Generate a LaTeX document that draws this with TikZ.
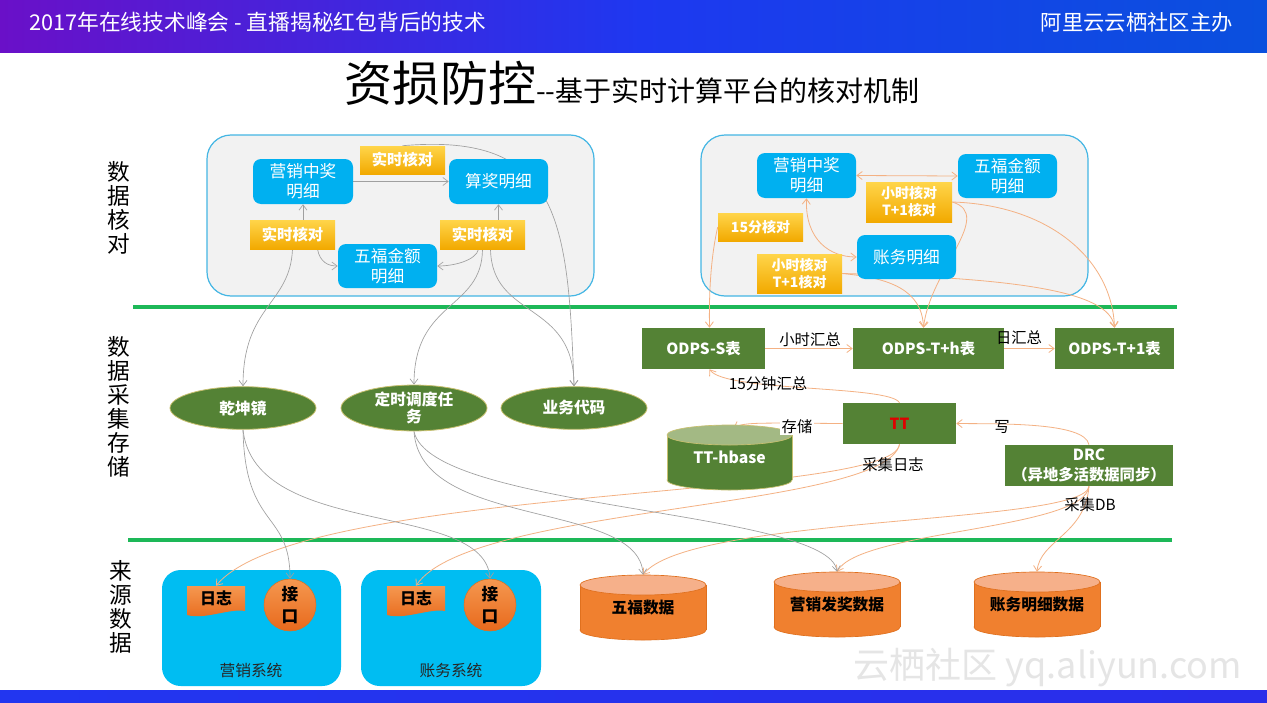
\documentclass[tikz,border=0pt]{standalone}
\usepackage{fontspec}
\setmainfont{Noto Sans CJK SC}
\usetikzlibrary{arrows.meta,shapes.geometric,calc}
\definecolor{cblue}{HTML}{00B0F0}
\definecolor{csys}{HTML}{00BDF2}
\definecolor{cyt}{HTML}{FFD54A}
\definecolor{cyb}{HTML}{F2A900}
\definecolor{cgreen}{HTML}{548235}
\definecolor{cgtop}{HTML}{A3B984}
\definecolor{cgbd}{HTML}{C8C070}
\definecolor{cgray}{HTML}{A0A0A0}
\definecolor{cpeach}{HTML}{F4B183}
\definecolor{cdiv}{HTML}{1DB858}
\definecolor{cbord}{HTML}{44B6E4}
\definecolor{cpanel}{HTML}{F2F2F2}
\definecolor{cor}{HTML}{F0802F}
\definecolor{cortop}{HTML}{F6B08A}
\definecolor{corbd}{HTML}{E0701E}
\definecolor{cot}{HTML}{F59850}
\definecolor{cob}{HTML}{E8691C}
\definecolor{hdl}{HTML}{6A10C8}
\definecolor{hdm}{HTML}{1E38F0}
\definecolor{hdr}{HTML}{0A50DE}
\definecolor{btl}{HTML}{2236F0}
\definecolor{btm}{HTML}{4414DC}
\definecolor{btr}{HTML}{2A2EEA}
\definecolor{ctt}{HTML}{E00000}
\pgfdeclarelayer{back}
\pgfdeclarelayer{mid}
\pgfsetlayers{back,mid,main}
\newcommand{\mycyl}[7]{%
 \pgfmathsetmacro{\cylcx}{(#1+#3)/2}%
 \pgfmathsetmacro{\cylrx}{(#3-#1)*0.375}%
 \pgfmathsetmacro{\cylty}{#2+10}%
 \pgfmathsetmacro{\cylby}{#4-10}%
 \filldraw[fill=#5, draw=#7, line width=0.5pt] (\cylcx,\cylby) ellipse [x radius=\cylrx pt, y radius=7.5pt];
 \fill[#5] (#1,\cylty) rectangle (#3,\cylby);
 \draw[#7, line width=0.5pt] (#1,\cylty) -- (#1,\cylby) (#3,\cylty) -- (#3,\cylby);
 \filldraw[fill=#6, draw=#7, line width=0.5pt] (\cylcx,\cylty) ellipse [x radius=\cylrx pt, y radius=7.5pt];
}
\tikzset{
 bx/.style n args={4}{at={({(#1+#3)/2},{(#2+#4)/2})}, minimum width={(#3-#1)*0.75pt}, minimum height={(#4-#2)*0.75pt}},
 container/.style={rectangle, rounded corners=18pt, fill=cpanel, draw=cbord, line width=0.9pt, inner sep=0},
 bluebox/.style={rectangle, rounded corners=6pt, fill=cblue, text=white, align=center, inner sep=0, font=\fontsize{12.5}{15}\selectfont},
 ybox/.style={rectangle, top color=cyt, bottom color=cyb, text=white, align=center, inner sep=0, font=\bfseries\fontsize{11.5}{14}\selectfont},
 ysmall/.style={ybox, font=\bfseries\fontsize{10.5}{12.8}\selectfont},
 gbox/.style={rectangle, fill=cgreen, text=white, align=center, inner sep=0, font=\bfseries\fontsize{11.5}{15.5}\selectfont},
 gell/.style={ellipse, fill=cgreen, draw=cgbd, line width=0.6pt, text=white, align=center, inner sep=0, minimum width=109.5pt, minimum height=32pt, font=\bfseries\fontsize{11.8}{13}\selectfont},
 cyltext/.style={rectangle, inner sep=0, align=center, font=\bfseries\fontsize{11.8}{14}\selectfont},
 sysbox/.style={rectangle, rounded corners=14pt, fill=csys, inner sep=0},
 systxt/.style={font=\fontsize{11.8}{14}\selectfont, text=black!85},
 lognode/.style={rectangle, inner sep=0, font=\bfseries\fontsize{12}{14}\selectfont},
 jknode/.style={circle, top color=cot, bottom color=cob, draw=corbd, line width=0.4pt, inner sep=0, minimum size=39pt, align=center, font=\bfseries\fontsize{12.5}{16.5}\selectfont},
 lbl/.style={font=\fontsize{11.5}{14}\selectfont, text=black, inner sep=1pt},
 side/.style={font=\fontsize{17}{18}\selectfont, align=center, text=black, inner sep=0},
 garrow/.style={draw=cgray, line width=0.5pt, ->},
 parrow/.style={draw=cpeach, line width=0.6pt},
 divider/.style={draw=cdiv, line width=2.6pt}
}
\begin{document}
\begin{tikzpicture}[x=0.75pt,y=-0.75pt, >={Straight Barb[length=4pt,width=6pt]}]
\useasboundingbox (0,0) rectangle (1267,703);
\begin{pgfonlayer}{back}
\fill[white] (0,0) rectangle (1267,703);
\draw[divider] (133,307) -- (1177,307);
\draw[divider] (128,540) -- (1172,540);
\node[container, bx={207}{135}{594}{296}] (c1) {};
\node[container, bx={701}{135}{1088}{296}] (c2) {};
\node[sysbox, bx={162}{570}{341}{686}] (sys1) {};
\node[sysbox, bx={361}{570}{541}{686}] (sys2) {};
\end{pgfonlayer}
% header and footer
\shade[left color=hdl, right color=hdm] (0,0) rectangle (641,52);
\shade[left color=hdm, right color=hdr] (640,0) rectangle (1267,52);
\shade[left color=btl, middle color=btm, right color=btr] (0,690) rectangle (1267,703);
\node[anchor=west, text=white, font=\fontsize{16.3}{18}\selectfont, inner sep=0] (head) at (29,22) {2017年在线技术峰会 - 直播揭秘红包背后的技术};
\node[anchor=east, text=white, font=\fontsize{16}{18}\selectfont, inner sep=0] (host) at (1233,22) {阿里云云栖社区主办};
% title
\node[anchor=base west, inner sep=0] (title) at (344,101) {{\fontsize{36}{36}\selectfont 资损防控}{\fontsize{21}{22}\selectfont {-}{-}基于实时计算平台的核对机制}};
% side labels
\node[side] (s1lab) at (119,208) {数\\据\\核\\对};
\node[side] (s2lab) at (119,407) {数\\据\\采\\集\\存\\储};
\node[side] (s3lab) at (121,607) {来\\源\\数\\据};
% watermark
\node[text=black!10, font=\fontsize{27}{30}\selectfont, inner sep=0] (wm) at (1048,668) {云栖社区 yq.aliyun.com};
% top-left panel
\node[bluebox, bx={253}{159}{353}{204}] (yx1) {营销中奖\\明细};
\node[bluebox, bx={449}{159}{548}{204}] (sj) {算奖明细};
\node[bluebox, bx={338}{244}{437}{288}] (wf1) {五福金额\\明细};
\node[ybox, bx={360}{146}{445}{174}] (hd1) {实时核对};
\node[ybox, bx={250}{220}{335}{249}] (hd2) {实时核对};
\node[ybox, bx={440}{220}{525}{249}] (hd3) {实时核对};
% top-right panel
\node[bluebox, bx={757}{153}{856}{198}] (yx2) {营销中奖\\明细};
\node[bluebox, bx={958}{154}{1057}{198}] (wf2) {五福金额\\明细};
\node[bluebox, bx={857}{235}{956}{279}] (zw) {账务明细};
\node[ysmall, bx={866}{182}{952}{222}] (hr1) {小时核对\\T+1核对};
\node[ysmall, bx={718}{213}{803}{241}] (f15) {15分核对};
\node[ysmall, bx={757}{254}{842}{293}] (hr2) {小时核对\\T+1核对};
% middle section
\node[gbox, bx={642}{328}{765}{369}] (os) {ODPS-S表};
\node[gbox, bx={853}{328}{1004}{369}] (oth) {ODPS-T+h表};
\node[gbox, bx={1055}{328}{1174}{369}] (ot1) {ODPS-T+1表};
\node[gbox, bx={843}{403}{956}{444}, text=ctt] (tt) {TT};
\node[gbox, bx={1005}{445}{1173}{486}] (drc) {DRC\\（异地多活数据同步）};
\mycyl{667}{425}{792}{490}{cgreen}{cgtop}{cgbd}
\node[cyltext, text=white, bx={667}{425}{792}{490}] (hb) {\raisebox{-4pt}{TT-hbase}};
\node[gell] (qkj) at (243,408) {乾坤镜};
\node[gell] (dsd) at (414,408) {定时调度任\\务};
\node[gell] (ywdm) at (574,408) {业务代码};
\node[lbl] (l1) at (810,340) {小时汇总};
\node[lbl] (l2) at (1019,338) {日汇总};
\node[lbl] (l3) at (768,384) {15分钟汇总};
\node[lbl, fill=white] (l4) at (797,427) {存储};
\node[lbl] (l5) at (1002,427) {写};
\node[lbl] (l6) at (893,465) {采集日志};
\node[lbl] (l7) at (1090,505) {采集DB};
% bottom section
\shade[top color=cot, bottom color=cob] (187,586) -- (245,586) -- (245,611) .. controls (230,608) and (205,620) .. (187,615) -- cycle;
\shade[top color=cot, bottom color=cob] (387,586) -- (445,586) -- (445,611) .. controls (430,608) and (405,620) .. (387,615) -- cycle;
\node[lognode, bx={187}{586}{245}{610}] (log1) {日志};
\node[lognode, bx={387}{586}{445}{610}] (log2) {日志};
\node[jknode] (jk1) at (290,605) {接\\口};
\node[jknode] (jk2) at (490,605) {接\\口};
\node[systxt] (sys1l) at (251,671) {营销系统};
\node[systxt] (sys2l) at (451,671) {账务系统};
\mycyl{580}{575}{706}{640}{cor}{cortop}{corbd}
\mycyl{774}{572}{900}{637}{cor}{cortop}{corbd}
\mycyl{974}{572}{1100}{637}{cor}{cortop}{corbd}
\node[cyltext, bx={580}{575}{706}{640}] (wf3) {\raisebox{-4pt}{五福数据}};
\node[cyltext, bx={774}{572}{900}{637}] (yf) {\raisebox{-4pt}{营销发奖数据}};
\node[cyltext, bx={974}{572}{1100}{637}] (zm) {\raisebox{-4pt}{账务明细数据}};
% connectors
\begin{pgfonlayer}{mid}
\draw[garrow] (yx1.east) -- (sj.west);
\draw[garrow] (hd2.north -| yx1.south) -- (yx1.south);
\draw[garrow] ($(hd2.south)+(25,0)$) .. controls (320,262) and (328,266) .. (wf1.west);
\draw[garrow] (hd3.north -| sj.south) -- (sj.south);
\draw[garrow] ($(hd3.south)+(-4,0)$) .. controls (476,260) and (455,266) .. (wf1.east);
\draw[garrow] (hd2.south) .. controls (290,305) and (243,305) .. (qkj.north);
\draw[garrow] (hd3.south) .. controls (482,310) and (414,300) .. (dsd.north);
\draw[garrow] ($(hd3.south)+(8,0)$) .. controls (492,320) and (574,300) .. (ywdm.north);
\draw[garrow] (hd1.north) .. controls (560,132) and (568,220) .. (ywdm.north);
\draw[parrow, <->] (yx2.east) -- (wf2.west);
\draw[parrow, <->] (yx2.south) .. controls (805,240) and (830,257) .. (zw.west);
\draw[parrow, ->] (f15.west) .. controls (710,260) and (709,300) .. ($(os.north)+(6,0)$);
\draw[parrow, ->] (hr1.east) .. controls (995,215) and (930,270) .. ($(oth.north)+(-5,0)$);
\draw[parrow, ->] (hr1.east) .. controls (1050,205) and (1112,260) .. (ot1.north);
\draw[parrow, ->] (hr2.east) .. controls (890,278) and (922,290) .. ($(oth.north)+(-5,0)$);
\draw[parrow, ->] (hr2.east) .. controls (1010,278) and (1110,290) .. (ot1.north);
\draw[parrow, ->] (os.east) -- (oth.west);
\draw[parrow, ->] (oth.east) -- (ot1.west);
\draw[parrow, ->] (tt.north) .. controls (890,385) and (725,392) .. ($(os.south)+(6,0)$);
\draw[parrow, ->] (tt.west) .. controls (760,423) and (745,422) .. ($(hb.north)+(4,3)$);
\draw[parrow, ->] (drc.north) .. controls (1085,422) and (1000,424) .. (tt.east);
\draw[parrow, ->] (tt.south) .. controls (895,500) and (300,485) .. (log1.north);
\draw[parrow, ->] (tt.south) .. controls (885,510) and (470,505) .. (log2.north);
\draw[parrow, ->] (drc.south) .. controls (1085,525) and (690,515) .. (wf3.north);
\draw[parrow, ->] (drc.south) .. controls (1085,530) and (860,530) .. (yf.north);
\draw[parrow, ->] (drc.south) .. controls (1085,535) and (1040,540) .. (zm.north);
\draw[garrow] (qkj.south) .. controls (245,530) and (290,510) .. (jk1.north);
\draw[garrow] (qkj.south) .. controls (255,540) and (485,500) .. (jk2.north);
\draw[garrow] (dsd.south) .. controls (420,530) and (640,500) .. (wf3.north);
\draw[garrow] (dsd.south) .. controls (430,510) and (830,510) .. (yf.north);
\end{pgfonlayer}
\end{tikzpicture}
\end{document}
